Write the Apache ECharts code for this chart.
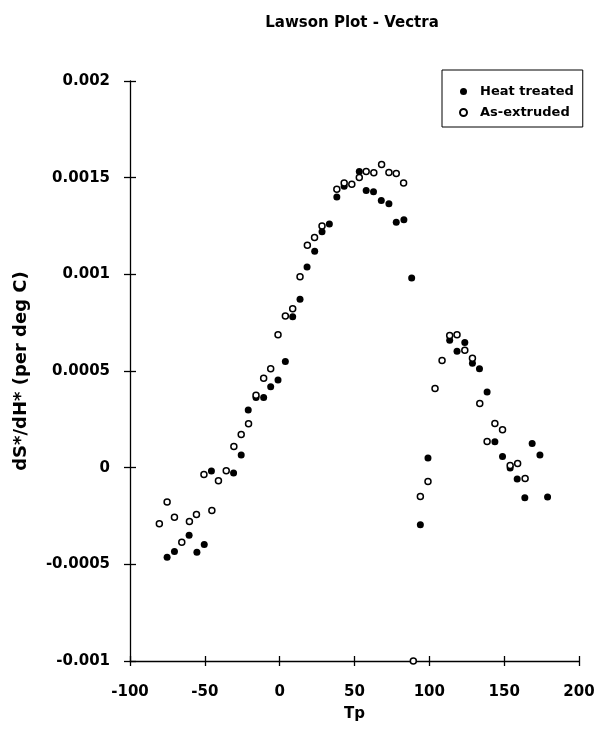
<!DOCTYPE html>
<html lang="en">
<head>
    <meta charset="UTF-8">
    <title>Lawson Plot - Vectra</title>
    <script src="https://cdn.jsdelivr.net/npm/echarts@6/dist/echarts.min.js"></script>
    <style>
        body {margin: 0; background: #fff;}
    </style>
</head>
<body>
<div id="main" style="width: 598px;height:734px;"></div>

<script>
    // Tp, dS*/dH*
    var heatTreated = [
        [-75.2,-0.000464],[-70.3,-0.000433],[-60.5,-0.00035],[-55.3,-0.000438],[-50.4,-0.000397],
        [-45.6,-0.000017],[-30.8,-0.000028],[-25.7,0.000065],[-21.0,0.000298],[-15.8,0.000363],
        [-10.7,0.000363],[-6.0,0.000418],[-1.1,0.000454],[3.8,0.000549],[8.7,0.00078],
        [13.6,0.000871],[18.3,0.001038],[23.4,0.001119],[28.3,0.00122],[33.2,0.00126],
        [38.2,0.0014],[43.1,0.001456],[53.2,0.001532],[57.8,0.001434],[62.7,0.001427],
        [67.9,0.001382],[73,0.001365],[77.9,0.00127],[83,0.001282],[88.2,0.000981],
        [94,-0.000295],[99.1,0.00005],[113.6,0.000659],[118.5,0.000602],[123.7,0.000647],
        [128.8,0.00054],[133.5,0.000512],[138.6,0.000392],[143.8,0.000134],[148.9,0.000058],
        [154,-0.000002],[158.7,-0.000059],[163.8,-0.000155],[168.7,0.000125],[173.9,0.000065],
        [179,-0.000152]
    ];
    var asExtruded = [
        [-80.4,-0.00029],[-75.2,-0.000178],[-70.3,-0.000257],[-65.4,-0.000386],[-60.3,-0.000279],
        [-55.6,-0.000242],[-50.6,-0.000035],[-45.3,-0.000222],[-40.9,-0.000068],[-35.7,-0.000016],
        [-30.6,0.00011],[-25.7,0.000172],[-20.8,0.000227],[-15.8,0.000375],[-10.7,0.000463],
        [-6.0,0.000511],[-1.1,0.000687],[3.8,0.000785],[8.7,0.000822],[13.6,0.000988],
        [18.5,0.00115],[23.3,0.00119],[28.3,0.00125],[38.2,0.00144],[43.1,0.001473],
        [48.2,0.001466],[53.2,0.001501],[57.8,0.001532],[62.9,0.001525],[68.1,0.001568],
        [73,0.001527],[77.9,0.001522],[82.8,0.001472],[89.3,-0.001],[94,-0.000149],
        [99.1,-0.000071],[103.8,0.000409],[108.5,0.000554],[113.6,0.000683],[118.5,0.000688],
        [123.7,0.000607],[128.8,0.000566],[133.7,0.000332],[138.6,0.000135],[143.8,0.000228],
        [148.9,0.000196],[154,0.000011],[159,0.000022],[164,-0.000056]
    ];
    var seriesNames = ['Heat treated', 'As-extruded'];
    var xRange = [-100, 200, 50];
    var yRange = [-0.001, 0.002, 0.0005];

    var font = 'DejaVu Sans, Arial, sans-serif';

    var myChart = echarts.init(document.getElementById('main'), null, {renderer: 'canvas'});

    function yFmt(v) {
        return String(Math.round(v * 1e5) / 1e5);
    }

    // second x / y axis only draws the inner half of the crossing ticks
    var option = {
        backgroundColor: '#fff',
        animation: false,
        title: {
            text: 'Lawson Plot - Vectra',
            left: 347,
            textAlign: 'center',
            top: 11,
            textStyle: {fontFamily: font, fontSize: 15, fontWeight: 'bold', color: '#000'}
        },
        legend: {
            data: seriesNames,
            orient: 'vertical',
            left: 442,
            top: 70,
            padding: [15, 9, 8, 17],
            itemGap: 8,
            itemWidth: 7,
            itemHeight: 7,
            borderColor: '#000',
            borderWidth: 1,
            textStyle: {fontFamily: font, fontSize: 13, fontWeight: 'bold', color: '#000', padding: [0, 0, 0, 8]}
        },
        grid: {left: 130, right: 19, top: 81, bottom: 73, outerBoundsMode: 'none'},
        xAxis: [
            {
                type: 'value',
                min: xRange[0], max: xRange[1], interval: xRange[2],
                name: 'Tp',
                nameLocation: 'middle',
                nameGap: 46,
                nameTextStyle: {fontFamily: font, fontSize: 15, fontWeight: 'bold', color: '#000'},
                axisLine: {show: true, onZero: false, lineStyle: {color: '#000', width: 1.3}},
                axisTick: {show: true, inside: false, length: 5, lineStyle: {color: '#000', width: 1.3}},
                axisLabel: {margin: 24, fontFamily: font, fontSize: 15, fontWeight: 'bold', color: '#000'},
                splitLine: {show: false}
            },
            {
                type: 'value',
                min: xRange[0], max: xRange[1], interval: xRange[2],
                position: 'bottom',
                axisLine: {show: false, onZero: false},
                axisTick: {show: true, inside: true, length: 5, lineStyle: {color: '#000', width: 1.3}},
                axisLabel: {show: false},
                splitLine: {show: false}
            }
        ],
        yAxis: [
            {
                type: 'value',
                min: yRange[0], max: yRange[1], interval: yRange[2],
                name: 'dS*/dH* (per deg C)',
                nameLocation: 'middle',
                nameGap: 100,
                nameTextStyle: {fontFamily: font, fontSize: 18, fontWeight: 'bold', color: '#000'},
                axisLine: {show: true, onZero: false, lineStyle: {color: '#000', width: 1.3}},
                axisTick: {show: true, inside: false, length: 6, lineStyle: {color: '#000', width: 1.3}},
                axisLabel: {margin: 20, fontFamily: font, fontSize: 15, fontWeight: 'bold', color: '#000', formatter: yFmt},
                splitLine: {show: false}
            },
            {
                type: 'value',
                min: yRange[0], max: yRange[1], interval: yRange[2],
                position: 'left',
                axisLine: {show: false, onZero: false},
                axisTick: {show: true, inside: true, length: 6, lineStyle: {color: '#000', width: 1.3}},
                axisLabel: {show: false},
                splitLine: {show: false}
            }
        ],
        series: [
            {
                name: seriesNames[0],
                type: 'scatter',
                xAxisIndex: 0, yAxisIndex: 0,
                symbol: 'circle',
                symbolSize: 7,
                itemStyle: {color: '#000', opacity: 1},
                data: heatTreated
            },
            {
                name: seriesNames[1],
                type: 'scatter',
                xAxisIndex: 0, yAxisIndex: 0,
                symbol: 'circle',
                symbolSize: 6,
                itemStyle: {color: '#fff', borderColor: '#000', borderWidth: 1.5, opacity: 1},
                data: asExtruded
            }
        ]
    };

    myChart.setOption(option);
</script>
</body>
</html>
